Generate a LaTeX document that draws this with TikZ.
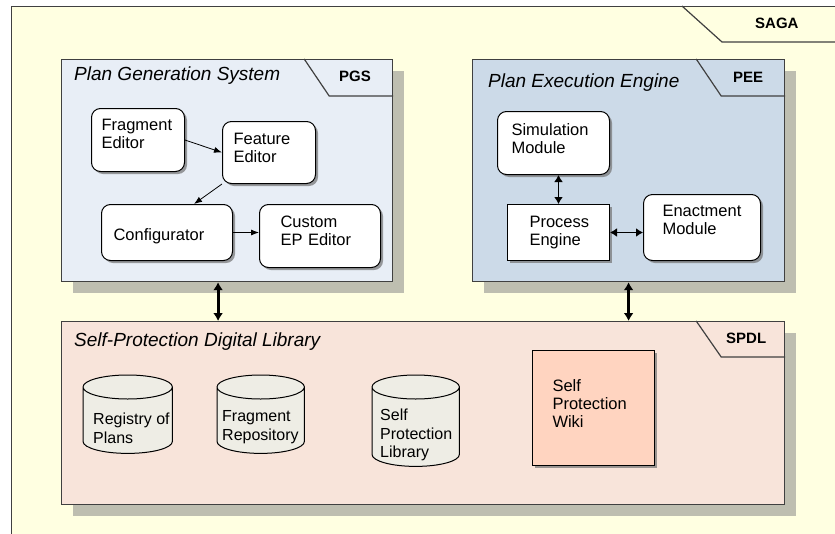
\documentclass[tikz,border=0pt]{standalone}
\usepackage{fontspec}
\setmainfont{Liberation Sans}
\usetikzlibrary{arrows.meta, positioning, shapes.geometric, shadows, calc}

\definecolor{sagafill}{RGB}{255,255,225}
\definecolor{pgsfill}{RGB}{232,238,246}
\definecolor{peefill}{RGB}{204,218,232}
\definecolor{spdlfill}{RGB}{248,228,218}
\definecolor{wikifill}{RGB}{255,212,192}
\definecolor{cylfill}{RGB}{238,237,229}
\definecolor{frameshadow}{RGB}{190,190,176}
\definecolor{framedraw}{RGB}{64,64,64}

\tikzset{
  container/.style={draw=framedraw, line width=1.2pt, anchor=north west, inner sep=0pt,
    drop shadow={shadow xshift=11pt, shadow yshift=-11pt, fill=frameshadow, opacity=1}},
  tabline/.style={draw=framedraw, line width=1.2pt},
  title/.style={anchor=base west, inner sep=0pt, font=\fontsize{19}{22}\selectfont\itshape},
  tablabel/.style={anchor=base west, inner sep=0pt, font=\fontsize{15}{18}\selectfont\bfseries},
  module/.style={draw, line width=1pt, fill=white, anchor=north west, align=left,
    font=\fontsize{16.5}{18}\selectfont,
    drop shadow={shadow xshift=2.5pt, shadow yshift=-2.5pt, fill=black!55, opacity=.7}},
  roundmod/.style={module, rounded corners=9pt},
  storebox/.style={anchor=north west, inner sep=0pt},
  storeline/.style={draw, line width=1pt, fill=cylfill},
  storetext/.style={anchor=base west, inner sep=0pt, align=left,
    font=\fontsize{16}{18.5}\selectfont},
  flow/.style={-{Latex[length=8pt,width=6pt]}, line width=0.8pt},
  link/.style={{Latex[length=7pt,width=9pt]}-{Latex[length=7pt,width=9pt]}, line width=1.6pt},
  bus/.style={{Latex[length=8pt,width=10pt]}-{Latex[length=8pt,width=10pt]}, line width=3pt},
}

% cylinder drawn over the box of node #1
\newcommand{\storeshape}[1]{%
  \path[storeline] let \p1=(#1.west), \p2=(#1.east) in
    ([yshift=-12pt]#1.north west) -- ([yshift=12pt]#1.south west)
    arc[start angle=180, end angle=360, x radius={(\x2-\x1)/2}, y radius=12pt]
    -- ([yshift=-12pt]#1.north east)
    arc[start angle=0, end angle=180, x radius={(\x2-\x1)/2}, y radius=12pt] -- cycle
    ([yshift=-12pt]#1.north west)
    arc[start angle=180, end angle=360, x radius={(\x2-\x1)/2}, y radius=12pt];}

\begin{document}
\begin{tikzpicture}[x=1pt, y=-1pt]
  \useasboundingbox (0,0) rectangle (835,533);
  \clip (0,0) rectangle (835,533);

  % outer frame
  \node[draw=framedraw, line width=1.2pt, fill=sagafill, anchor=north west, inner sep=0pt,
    minimum width=850pt, minimum height=550pt] (saga) at (11,6) {};
  \draw[tabline] ([xshift=671pt]saga.north west) -- ([xshift=711pt,yshift=-36pt]saga.north west) -- (835,42);
  \node[tablabel] (sagatab) at (755,28) {SAGA};

  % plan generation system
  \node[container, fill=pgsfill, minimum width=331pt, minimum height=222pt] (pgs) at (61,59) {};
  \draw[tabline] ([xshift=-89pt]pgs.north east) -- ([xshift=-64pt,yshift=-37pt]pgs.north east) -- ([yshift=-37pt]pgs.north east);
  \node[title] (pgstitle) at (74,80) {Plan Generation System};
  \node[tablabel] (pgstab) at (339,81) {PGS};

  \node[roundmod, minimum height=63pt, text width=73pt, inner xsep=10pt, text depth=30pt] (fragedit) at (91,108) {Fragment\\Editor};
  \node[roundmod, minimum height=62pt, text width=71pt, inner xsep=11pt, text depth=28pt] (featedit) at (222,121) {Feature\\Editor};
  \node[roundmod, minimum height=56pt, text width=107pt, inner xsep=12pt, text height=20pt] (config) at (101,204) {Configurator};
  \node[roundmod, minimum height=63pt, text width=79pt, inner xsep=21pt, text depth=28pt] (custedit) at (259,204) {Custom\\EP Editor};

  \draw[flow] (fragedit.east) -- (featedit.west);
  \draw[flow] (featedit.south west) -- ([xshift=27pt]config.north);
  \draw[flow] (config.east) -- (config.east -| custedit.west);

  % plan execution engine
  \node[container, fill=peefill, minimum width=312pt, minimum height=222pt] (pee) at (472,59) {};
  \draw[tabline] ([xshift=-89pt]pee.north east) -- ([xshift=-64pt,yshift=-37pt]pee.north east) -- ([yshift=-37pt]pee.north east);
  \node[title] (peetitle) at (488,87) {Plan Execution Engine};
  \node[tablabel] (peetab) at (733,82) {PEE};

  \node[roundmod, minimum height=63pt, text width=84pt, inner xsep=14pt, text depth=26pt] (sim) at (497,111) {Simulation\\Module};
  \node[module, minimum height=56pt, text width=58pt, inner xsep=22pt] (proc) at (507,204) {Process\\Engine};
  \node[roundmod, minimum height=66pt, text width=79pt, inner xsep=19pt, text depth=34pt] (enact) at (643,194) {Enactment\\Module};

  \draw[link] (proc.north) -- (proc.north |- sim.south);
  \draw[link] (proc.east) -- (proc.east -| enact.west);

  % digital library
  \node[container, fill=spdlfill, minimum width=723pt, minimum height=183pt] (spdl) at (61,321) {};
  \draw[tabline] ([xshift=-89pt]spdl.north east) -- ([xshift=-64pt,yshift=-36pt]spdl.north east) -- ([yshift=-36pt]spdl.north east);
  \node[title] (spdltitle) at (74,346) {Self-Protection Digital Library};
  \node[tablabel] (spdltab) at (726,343) {SPDL};

  \node[storebox, minimum width=89pt, minimum height=78pt] (plans) at (83,375) {};
  \node[storebox, minimum width=87pt, minimum height=78pt] (fragrepo) at (217,375) {};
  \node[storebox, minimum width=87pt, minimum height=91pt] (splib) at (372,375) {};
  \storeshape{plans}
  \storeshape{fragrepo}
  \storeshape{splib}
  \node[storetext] (planstext) at (93,443) {Registry of\\Plans};
  \node[storetext] (fragrepotext) at (222,440) {Fragment\\Repository};
  \node[storetext] (splibtext) at (380,457.5) {Self\\Protection\\Library};

  \node[module, fill=wikifill, minimum height=115pt, text width=82pt, inner xsep=20pt, text depth=44pt] (wiki) at (532,350) {Self\\Protection\\Wiki};

  \draw[bus] ([xshift=-9pt]pgs.south) -- ([xshift=-9pt]pgs.south |- spdl.north);
  \draw[bus] (pee.south) -- (pee.south |- spdl.north);
\end{tikzpicture}
\end{document}
